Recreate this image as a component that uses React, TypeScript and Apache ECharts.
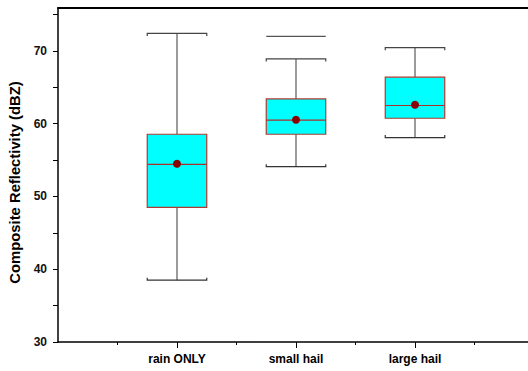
import React, { useEffect, useRef } from "react";
import * as echarts from "echarts";

const categories = ["rain ONLY", "small hail", "large hail"];
const whiskerLow = [38.5, 54.1, 58.1];
const q1 = [48.5, 58.55, 60.75];
const median = [54.4, 60.5, 62.5];
const q3 = [58.55, 63.4, 66.4];
const whiskerHigh = [72.4, 68.9, 70.45];
const mean = [54.5, 60.55, 62.6];
const maxLine: (number | string)[] = ["-", 72.0, "-"];

const yTickValues = [30, 35, 40, 45, 50, 55, 60, 65, 70, 75];
const yLabelValues = [30, 40, 50, 60, 70];
const xLabelValues = [1, 2, 3];

const FONT = "'Liberation Sans', Arial, sans-serif";

export default function App() {
  const ref = useRef<HTMLDivElement>(null);
  useEffect(() => {
    if (!ref.current) return;
    const chart = echarts.init(ref.current, null, { renderer: "svg" });
    const data = categories.map((_, i) => [
      i + 1,
      whiskerLow[i],
      q1[i],
      median[i],
      q3[i],
      whiskerHigh[i],
      mean[i],
      maxLine[i],
    ]);
    const renderItem = (params: any, api: any) => {
      const x = api.value(0);
      const half = 0.25;
      const cx = api.coord([x, 50])[0];
      const left = api.coord([x - half, 50])[0];
      const right = api.coord([x + half, 50])[0];
      const yLow = api.coord([x, api.value(1)])[1];
      const yQ1 = api.coord([x, api.value(2)])[1];
      const yMed = api.coord([x, api.value(3)])[1];
      const yQ3 = api.coord([x, api.value(4)])[1];
      const yHigh = api.coord([x, api.value(5)])[1];
      const yMean = api.coord([x, api.value(6)])[1];
      const maxV = api.value(7);
      const children: any[] = [
        {
          type: "line",
          shape: { x1: cx, y1: yQ3, x2: cx, y2: yHigh },
          style: { stroke: "#666", lineWidth: 1.3 },
        },
        {
          type: "line",
          shape: { x1: cx, y1: yLow, x2: cx, y2: yQ1 },
          style: { stroke: "#666", lineWidth: 1.3 },
        },
        {
          type: "polyline",
          shape: {
            points: [
              [left, yHigh + 2.5],
              [left, yHigh],
              [right, yHigh],
              [right, yHigh + 2.5],
            ],
          },
          style: { stroke: "#444", lineWidth: 1.2, fill: "none" },
        },
        {
          type: "polyline",
          shape: {
            points: [
              [left, yLow - 2.5],
              [left, yLow],
              [right, yLow],
              [right, yLow - 2.5],
            ],
          },
          style: { stroke: "#333", lineWidth: 1.2, fill: "none" },
        },
        {
          type: "rect",
          shape: { x: left, y: yQ3, width: right - left, height: yQ1 - yQ3 },
          style: { fill: "#00ffff", stroke: "#b03a2e", lineWidth: 1.2 },
        },
        {
          type: "line",
          shape: { x1: left, y1: yMed, x2: right, y2: yMed },
          style: { stroke: "#a8322a", lineWidth: 1.2 },
        },
        {
          type: "circle",
          shape: { cx: cx, cy: yMean, r: 4 },
          style: { fill: "#8b0000" },
        },
      ];
      if (!isNaN(maxV)) {
        const yMax = api.coord([x, maxV])[1];
        children.push({
          type: "line",
          shape: { x1: left, y1: yMax, x2: right, y2: yMax },
          style: { stroke: "#555", lineWidth: 1.2 },
        });
      }
      return { type: "group", children };
    };

    chart.setOption({
      animation: false,
      backgroundColor: "#fff",
      grid: {
        left: 58,
        top: 8,
        width: 476,
        height: 334,
        outerBoundsMode: "none",
        containLabel: false,
        show: false,
      },
      xAxis: [
        {
          type: "value",
          position: "bottom",
          min: 0,
          max: 4,
          interval: 1,
          axisLine: { show: true, lineStyle: { color: "#000", width: 1.5 } },
          axisTick: {
            show: true,
            customValues: xLabelValues,
            length: 6,
            lineStyle: { color: "#000", width: 1 },
          },
          minorTick: {
            show: true,
            splitNumber: 2,
            length: 3,
            lineStyle: { color: "#000", width: 1 },
          },
          splitLine: { show: false },
          minorSplitLine: { show: false },
          axisLabel: {
            customValues: xLabelValues,
            formatter: (v: number) => categories[Math.round(v) - 1] ?? "",
            fontFamily: FONT,
            fontWeight: "bold",
            fontSize: 12,
            color: "#000",
            margin: 11,
          },
        },
        {
          type: "value",
          position: "top",
          min: 0,
          max: 4,
          axisLine: { show: true, lineStyle: { color: "#000", width: 2 } },
          axisTick: { show: false },
          axisLabel: { show: false },
          splitLine: { show: false },
        },
      ],
      yAxis: {
        type: "value",
        min: 30,
        max: 75.9,
        interval: 5,
        name: "Composite Reflectivity (dBZ)",
        nameLocation: "middle",
        nameGap: 33,
        nameTextStyle: {
          fontFamily: FONT,
          fontWeight: "bold",
          fontSize: 14.8,
          color: "#000",
          padding: [0, 15, 0, 0],
        },
        axisLine: { show: true, lineStyle: { color: "#000", width: 1.5 } },
        axisTick: {
          show: true,
          customValues: yTickValues,
          length: 5,
          lineStyle: { color: "#000", width: 1 },
        },
        splitLine: { show: false },
        axisLabel: {
          customValues: yLabelValues,
          fontFamily: FONT,
          fontWeight: "bold",
          fontSize: 12,
          color: "#111",
          margin: 11,
        },
      },
      series: [
        {
          type: "custom",
          renderItem,
          data,
          xAxisIndex: 0,
          encode: { x: 0, y: [1, 2, 3, 4, 5] },
          clip: false,
        },
      ],
    });
    return () => chart.dispose();
  }, []);
  return (
    <div
      ref={ref}
      style={{ position: "fixed", left: 0, top: 0, width: 528, height: 371 }}
    />
  );
}
